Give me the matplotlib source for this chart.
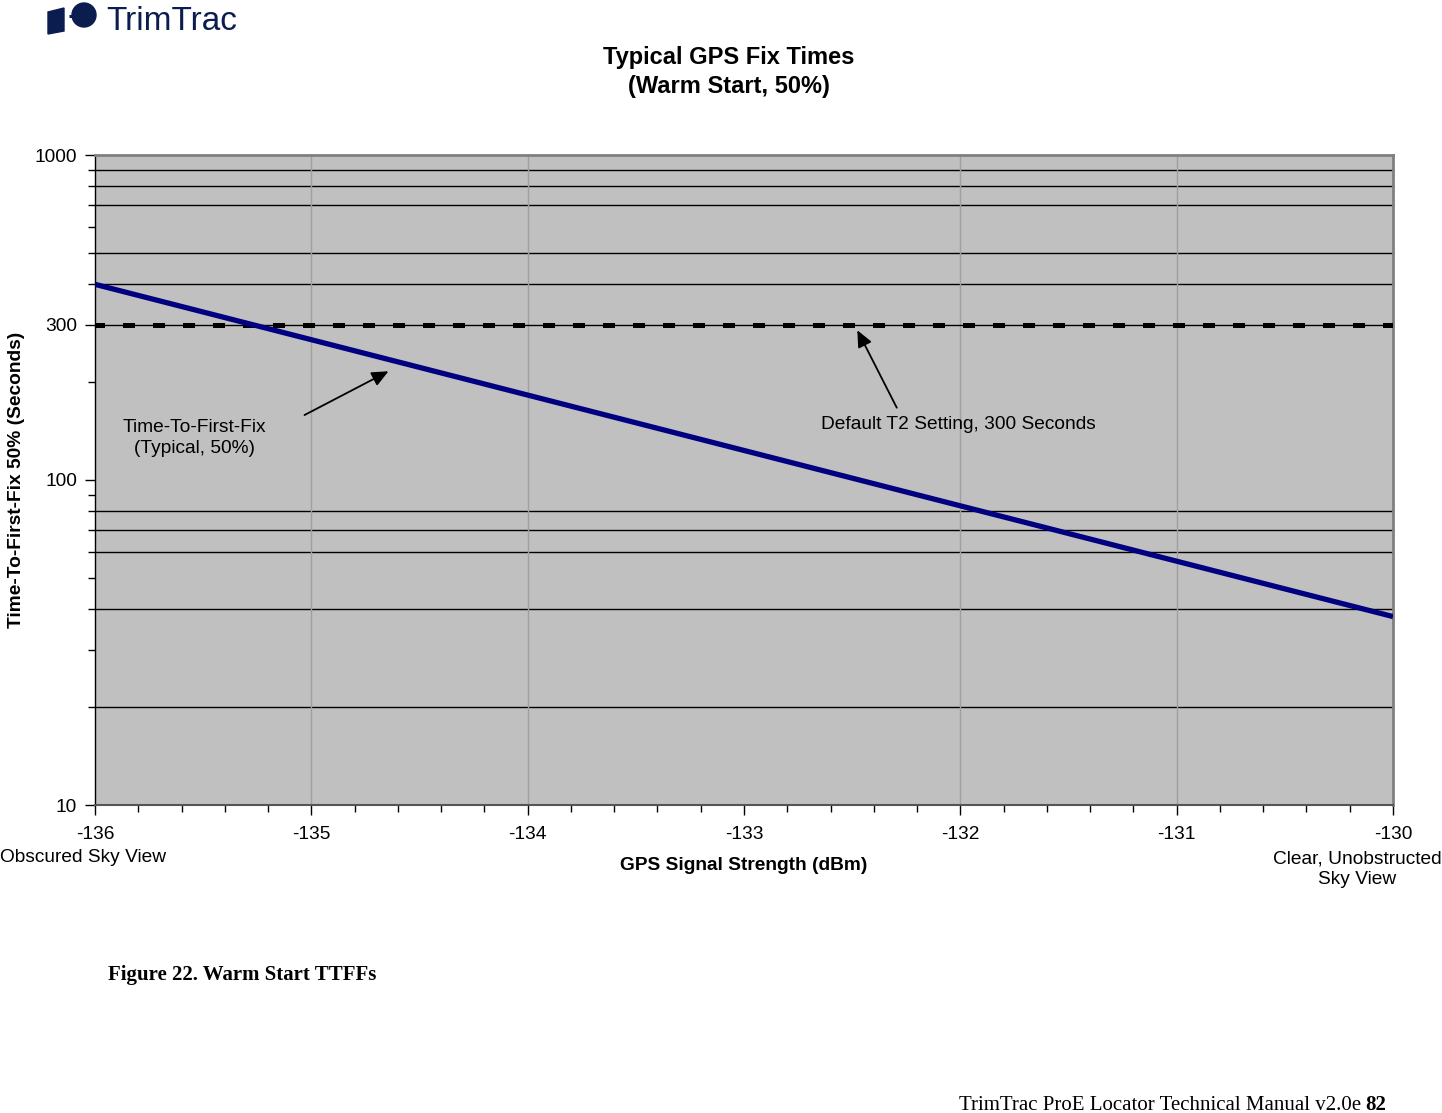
import numpy as np
import matplotlib
matplotlib.use("Agg")
import matplotlib.pyplot as plt
import matplotlib.ticker as mticker
from matplotlib.patches import Polygon, Ellipse

plt.rcParams['font.family'] = ['Liberation Sans', 'DejaVu Sans']

# data
signal_dbm = [-136, -130]
ttff_sec = [400, 38]
t2_x = [-136, -130]
t2_y = [300, 300]
x_ticks = [-136, -135, -134, -133, -132, -131, -130]
y_ticks = [10, 100, 300, 1000]
y_grid = [20, 40, 60, 70, 80, 400, 500, 700, 800, 900]
x_grid = [-135, -134, -132, -131]

W, H = 1442, 1113
fig = plt.figure(figsize=(W / 100, H / 100), dpi=100)
ax = fig.add_axes([95/W, 1 - 805/H, 1298/W, 650/H])
ax.set_facecolor('#c0c0c0')
ax.set_yscale('log')
ax.set_xlim(-136, -130)
ax.set_ylim(10, 1000)

for g in y_grid:
    ax.axhline(g, color='black', lw=1.0, zorder=1)
for g in x_grid:
    ax.axvline(g, color='#a0a0a0', lw=1.0, zorder=1)

# the curve
ax.plot(signal_dbm, ttff_sec, color='#000080', lw=3.8, zorder=4, solid_capstyle='butt')
# T2 setting line: thin line + thick black dashes
ax.plot(t2_x, t2_y, color='black', lw=1.0, zorder=3)
ax.plot(t2_x, t2_y, color='black', lw=3.6, zorder=3, linestyle=(0.5, (2.4, 3.6)))

ax.set_xticks(x_ticks)
ax.set_xticklabels([str(v) for v in x_ticks])
ax.xaxis.set_minor_locator(mticker.MultipleLocator(0.2))
ax.set_yticks(y_ticks)
ax.yaxis.set_major_formatter(mticker.FuncFormatter(lambda v, p: '%d' % v))
ax.yaxis.set_minor_locator(mticker.LogLocator(base=10, subs=np.arange(2, 10)))
ax.yaxis.set_minor_formatter(mticker.NullFormatter())
ax.tick_params(axis='both', which='major', labelsize=13.8, length=7, width=1, color='black')
ax.tick_params(axis='both', which='minor', length=5, width=1, color='black')
ax.tick_params(axis='x', pad=8)
ax.tick_params(axis='y', pad=6)

for s in ['top', 'right']:
    ax.spines[s].set_color('#808080')
    ax.spines[s].set_linewidth(2)
ax.spines['bottom'].set_color('#555555')
ax.spines['bottom'].set_linewidth(1.5)
ax.spines['left'].set_color('black')
ax.spines['left'].set_linewidth(1)

fig.text(17/W, 1 - 480/H, 'Time-To-First-Fix 50% (Seconds)', rotation=90, ha='center', va='center',
         fontsize=13.8, fontweight='bold')
fig.text(744/W, 1 - 865/H, 'GPS Signal Strength (dBm)', ha='center', va='center',
         fontsize=13.8, fontweight='bold')
fig.text(83/W, 1 - 857/H, 'Obscured Sky View', ha='center', va='center', fontsize=13.8)
fig.text(1357/W, 1 - 869/H, 'Clear, Unobstructed\nSky View', ha='center', va='center',
         fontsize=13.8, linespacing=1.25)

fig.text(729/W, 1 - 72/H, 'Typical GPS Fix Times\n(Warm Start, 50%)', ha='center', va='center',
         fontsize=17, fontweight='bold', linespacing=1.3)

arrow = dict(arrowstyle='-|>,head_length=1.0,head_width=0.45', color='black', lw=1.3)
ax.annotate('Time-To-First-Fix\n(Typical, 50%)', xy=(-134.632, 218), xytext=(-135.542, 135),
            ha='center', va='center', fontsize=13.8, linespacing=1.3)
ax.annotate('', xy=(-134.632, 218), xytext=(-135.043, 157), arrowprops=arrow)
ax.annotate('Default T2 Setting, 300 Seconds', xy=(-132.482, 294), xytext=(-132.01, 148),
            ha='center', va='center', fontsize=13.8)
ax.annotate('', xy=(-132.482, 294), xytext=(-132.288, 164), arrowprops=arrow)

# logo
navy = '#0b1d4f'
fig.patches.append(Polygon([[48/W, 1 - 34/H], [48/W, 1 - 12/H], [64/W, 1 - 8/H],
                            [64/W, 1 - 31/H]], closed=True, color=navy, transform=fig.transFigure))
fig.patches.append(Ellipse((84/W, 1 - 15/H), 24/W, 24/H, color=navy, transform=fig.transFigure))
fig.text(71/W, 1 - 18/H, '·', color=navy, fontsize=16, ha='center', va='center', fontweight='bold')
fig.text(106/W, 1 - 21/H, 'TrimTrac', color=navy, fontsize=24, ha='left', va='center')

# page text
fig.text(108/W, 1 - 975/H, 'Figure 22. Warm Start TTFFs', family='Liberation Serif',
         fontsize=15, fontweight='bold', ha='left', va='center')
fig.text(1361/W, 1 - 1105/H, 'TrimTrac ProE Locator Technical Manual v2.0e',
         family='Liberation Serif', fontsize=15, ha='right', va='center')
fig.text(1365/W, 1 - 1105/H, '82', family='Liberation Serif', fontsize=15,
         fontweight='bold', ha='left', va='center')

fig.savefig('out.png', dpi=100)
